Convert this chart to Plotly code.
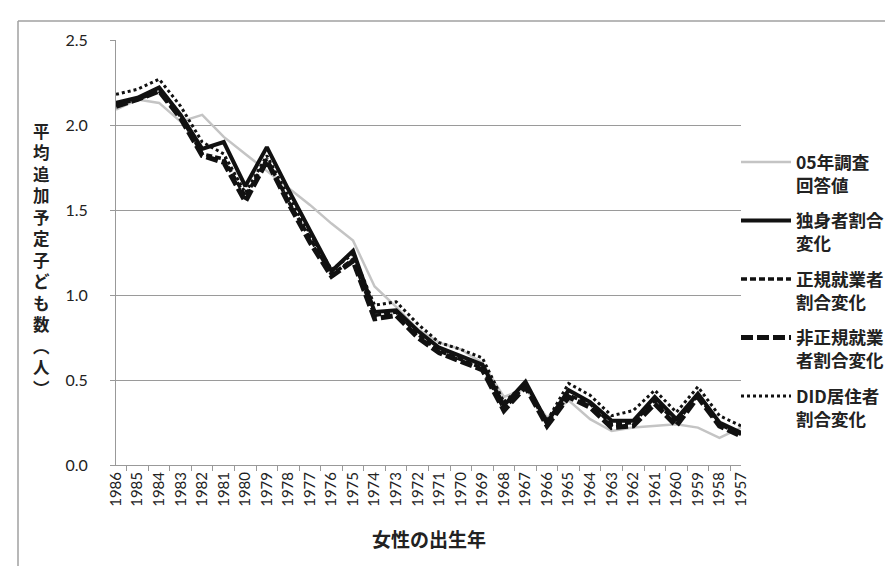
import plotly.graph_objects as go

years = ["1986", "1985", "1984", "1983", "1982", "1981", "1980", "1979", "1978", "1977",
         "1976", "1975", "1974", "1973", "1972", "1971", "1970", "1969", "1968", "1967",
         "1966", "1965", "1964", "1963", "1962", "1961", "1960", "1959", "1958", "1957"]

survey05 = [2.09, 2.15, 2.13, 2.02, 2.06, 1.93, 1.83, 1.73, 1.63, 1.53,
            1.42, 1.32, 1.05, 0.93, 0.80, 0.72, 0.68, 0.60, 0.40, 0.45,
            0.28, 0.38, 0.27, 0.20, 0.22, 0.23, 0.24, 0.22, 0.16, 0.22]
single = [2.13, 2.16, 2.22, 2.06, 1.86, 1.90, 1.64, 1.87, 1.62, 1.38,
          1.14, 1.26, 0.90, 0.91, 0.79, 0.69, 0.64, 0.59, 0.35, 0.49,
          0.25, 0.44, 0.37, 0.26, 0.26, 0.40, 0.27, 0.42, 0.25, 0.19]
regular = [2.12, 2.15, 2.20, 2.05, 1.83, 1.80, 1.58, 1.80, 1.55, 1.33,
           1.12, 1.21, 0.88, 0.90, 0.77, 0.67, 0.62, 0.57, 0.33, 0.47,
           0.24, 0.41, 0.36, 0.24, 0.25, 0.38, 0.25, 0.41, 0.24, 0.18]
nonregular = [2.11, 2.15, 2.20, 2.04, 1.82, 1.78, 1.55, 1.79, 1.54, 1.31,
              1.11, 1.20, 0.86, 0.88, 0.75, 0.66, 0.61, 0.56, 0.32, 0.46,
              0.23, 0.40, 0.34, 0.22, 0.23, 0.36, 0.23, 0.40, 0.23, 0.17]
did = [2.18, 2.21, 2.27, 2.11, 1.90, 1.83, 1.60, 1.82, 1.58, 1.36,
       1.15, 1.24, 0.94, 0.96, 0.83, 0.72, 0.68, 0.63, 0.37, 0.48,
       0.26, 0.48, 0.41, 0.29, 0.32, 0.44, 0.31, 0.46, 0.29, 0.23]

names = ["05年調査<br>回答値", "独身者割合<br>変化", "正規就業者<br>割合変化",
         "非正規就業<br>者割合変化", "DID居住者<br>割合変化"]
y_title_chars = "平均追加予定子ども数︵人︶"

FONT = "Lato, 'Noto Sans CJK JP', sans-serif"
CJK = "'Noto Sans CJK JP', sans-serif"

fig = go.Figure()
styles = [
    (survey05, dict(color="#c4c4c4", width=2.5, dash="solid")),
    (single, dict(color="#111111", width=4, dash="solid")),
    (regular, dict(color="#111111", width=3.5, dash="6px,3px")),
    (nonregular, dict(color="#111111", width=5, dash="12px,4px")),
    (did, dict(color="#111111", width=3, dash="dot")),
]
for i, (vals, ln) in enumerate(styles):
    fig.add_trace(go.Scatter(x=years, y=vals, mode="lines", name=names[i],
                             line=ln, legendgroup=str(i)))

fig.update_layout(
    width=893, height=566,
    margin=dict(l=108, r=160, t=32, b=109),
    paper_bgcolor="white", plot_bgcolor="white",
    font=dict(family=FONT, color="#222222"),
    showlegend=True,
    legend=dict(x=0.992, xanchor="left", y=0.755, yanchor="top",
                font=dict(family=CJK, size=17.5, color="#222222", weight="bold"),
                valign="top", tracegroupgap=10, itemwidth=50,
                bgcolor="rgba(0,0,0,0)"),
    xaxis=dict(type="category", categoryorder="array", categoryarray=years,
               tickangle=-90, tickfont=dict(size=15, color="#222222"),
               ticks="outside", tickson="boundaries", ticklen=5, tickcolor="#999999",
               showline=True, linecolor="#999999", linewidth=1, showgrid=False),
    yaxis=dict(range=[0, 2.5], dtick=0.5, tickformat=".1f",
               tickfont=dict(size=16, color="#222222"),
               ticks="outside", ticklen=5, tickcolor="#999999",
               showline=True, linecolor="#999999", linewidth=1,
               showgrid=True, gridcolor="#9a9a9a", gridwidth=1,
               zeroline=False, ticklabelstandoff=19),
    annotations=[
        dict(text="<b>女性の出生年</b>", xref="paper", yref="paper", x=0.5, y=(457 - 530) / 425,
             xanchor="center", yanchor="middle", showarrow=False,
             font=dict(family=CJK, size=19, color="#222222")),
        dict(text="<br>".join("<b>" + c + "</b>" for c in y_title_chars),
             xref="paper", yref="paper", x=(33 - 108) / 625, y=(457 - 252) / 425,
             xanchor="center", yanchor="middle", showarrow=False,
             font=dict(family=CJK, size=16.5, color="#222222")),
    ],
    shapes=[
        dict(type="line", xref="paper", yref="paper",
             x0=(10 - 108) / 625, x1=(10 - 108) / 625, y0=-0.3, y1=(457 - 13) / 425,
             line=dict(color="#a0a0a0", width=1.5)),
        dict(type="line", xref="paper", yref="paper",
             x0=(10 - 108) / 625, x1=1.3, y0=(457 - 13) / 425, y1=(457 - 13) / 425,
             line=dict(color="#a0a0a0", width=1.5)),
    ],
)

fig.write_html("out.html")
